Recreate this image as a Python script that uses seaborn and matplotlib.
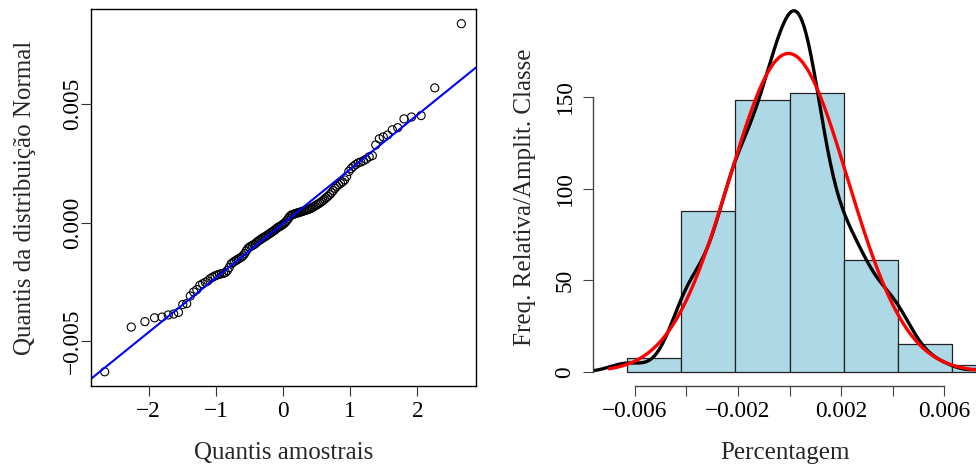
import numpy as np
import matplotlib
matplotlib.use("Agg")
import matplotlib.pyplot as plt
import seaborn as sns
from statistics import NormalDist

# Sorted sample values (percent returns)
retornos = [
    -0.00630, -0.00441, -0.00418, -0.00402, -0.00399, -0.00390, -0.00386, -0.00379,
    -0.00346, -0.00342, -0.00310, -0.00293, -0.00283, -0.00265, -0.00258, -0.00252,
    -0.00246, -0.00236, -0.00230, -0.00225, -0.00221, -0.00218, -0.00216, -0.00214,
    -0.00211, -0.00202, -0.00190, -0.00174, -0.00169, -0.00163, -0.00159, -0.00154,
    -0.00150, -0.00146, -0.00140, -0.00131, -0.00120, -0.00110, -0.00104, -0.00100,
    -0.00097, -0.00093, -0.00089, -0.00083, -0.00078, -0.00074, -0.00070, -0.00066,
    -0.00062, -0.00059, -0.00055, -0.00051, -0.00047, -0.00043, -0.00039, -0.00035,
    -0.00031, -0.00026, -0.00021, -0.00018, -0.00015, -0.00011, -0.00007, -0.00003,
    0.00003, 0.00010, 0.00018, 0.00026, 0.00031, 0.00034, 0.00036, 0.00038,
    0.00040, 0.00041, 0.00043, 0.00045, 0.00047, 0.00049, 0.00051, 0.00053,
    0.00055, 0.00057, 0.00060, 0.00063, 0.00067, 0.00071, 0.00075, 0.00079,
    0.00083, 0.00088, 0.00093, 0.00099, 0.00105, 0.00111, 0.00118, 0.00126,
    0.00135, 0.00145, 0.00153, 0.00160, 0.00166, 0.00172, 0.00180, 0.00195,
    0.00216, 0.00228, 0.00237, 0.00245, 0.00252, 0.00256, 0.00261, 0.00268,
    0.00278, 0.00283, 0.00328, 0.00354, 0.00362, 0.00370, 0.00392, 0.00401,
    0.00438, 0.00446, 0.00452, 0.00569, 0.00840,
]

qq_xlabel = "Quantis amostrais"
qq_ylabel = "Quantis da distribuição Normal"
qq_xticks = [-2, -1, 0, 1, 2]
qq_xticklabels = ["\u22122", "\u22121", "0", "1", "2"]
qq_yticks = [-0.005, 0.0, 0.005]
qq_yticklabels = ["\u22120.005", "0.000", "0.005"]

hist_xlabel = "Percentagem"
hist_ylabel = "Freq. Relativa/Amplit. Classe"
hist_xticks = [-0.006, -0.004, -0.002, 0.0, 0.002, 0.004, 0.006]
hist_xticklabels = ["\u22120.006", "", "\u22120.002", "", "0.002", "", "0.006"]
hist_yticks = [0, 50, 100, 150]
hist_yticklabels = ["0", "50", "100", "150"]

sns.set_theme(style="white")
plt.rcParams['font.family'] = ['Liberation Serif', 'DejaVu Serif']
plt.rcParams['axes.unicode_minus'] = True

data = np.sort(np.array(retornos))
n = len(data)
probs = (np.arange(1, n + 1) - 0.5) / n
teor = np.array([NormalDist().inv_cdf(p) for p in probs])
media = data.mean()
dp = data.std(ddof=1)
q1, q3 = np.percentile(data, [25, 75])
bw = 0.9 * min(dp, (q3 - q1) / 1.34) * n ** (-0.2)

W, H = 976, 468
fig = plt.figure(figsize=(W / 100, H / 100), dpi=100)
fs_tick = 16.8
fs_lab = 18
top_px, bot_px = 9.5, 386
ax1 = fig.add_axes([90.7 / W, (H - bot_px) / H, (476 - 90.7) / W, (bot_px - top_px) / H])
ax2 = fig.add_axes([593 / W, (H - bot_px) / H, (W - 593) / W, (bot_px - top_px) / H])

# ---- Q-Q plot ----
sns.scatterplot(x=teor, y=data, ax=ax1, marker='o', s=34,
                facecolor='none', edgecolor='black', linewidth=0.8)
ax1.axline((0, media), slope=dp, color='blue', lw=1.5)
ax1.set_xlim(-2.86, 2.87)
ax1.set_ylim(-0.00690, 0.00900)
ax1.set_xticks(qq_xticks)
ax1.set_xticklabels(qq_xticklabels, fontsize=fs_tick)
ax1.set_yticks(qq_yticks)
ax1.set_yticklabels(qq_yticklabels, fontsize=fs_tick, rotation=90, va='center')
ax1.set_xlabel(qq_xlabel, fontsize=fs_lab, labelpad=14.5)
ax1.set_ylabel(qq_ylabel, fontsize=fs_lab, labelpad=18.6)
for sp in ax1.spines.values():
    sp.set_color('black')
    sp.set_linewidth(1.0)
ax1.tick_params(direction='out', length=7, width=0.8, color='#333333',
                left=True, bottom=True, labelcolor='black')
ax1.tick_params(axis='x', pad=4)
ax1.tick_params(axis='y', pad=-1.6)

# ---- Histogram ----
bins = np.linspace(data.min(), data.max(), 8)
sns.histplot(data, bins=bins, stat='density', ax=ax2, color='#ADD8E6',
             edgecolor='#222222', linewidth=0.9, alpha=1.0)
sns.kdeplot(data, bw_method=bw / dp, gridsize=512, cut=3, ax=ax2,
            color='black', lw=2.4)
xs = np.linspace(-0.0070, 0.0080, 400)
pdf = np.exp(-0.5 * ((xs - media) / dp) ** 2) / (dp * np.sqrt(2 * np.pi))
sns.lineplot(x=xs, y=pdf, ax=ax2, color='red', lw=2.4)
ax2.set_xlim(-0.00763, 0.00724)
ax2.set_ylim(-7.63, 197.7)
ax2.set_xticks(hist_xticks)
ax2.set_xticklabels(hist_xticklabels, fontsize=fs_tick)
ax2.set_yticks(hist_yticks)
ax2.set_yticklabels(hist_yticklabels, fontsize=fs_tick, rotation=90, va='center')
ax2.set_xlabel(hist_xlabel, fontsize=fs_lab, labelpad=14.5)
ax2.set_ylabel(hist_ylabel, fontsize=fs_lab, labelpad=13.6)
ax2.spines['top'].set_visible(False)
ax2.spines['right'].set_visible(False)
ax2.spines['left'].set_bounds(0, 150)
ax2.spines['bottom'].set_bounds(-0.006, 0.006)
for s in ('left', 'bottom'):
    ax2.spines[s].set_color('#444444')
    ax2.spines[s].set_linewidth(1.0)
ax2.tick_params(direction='out', length=7, width=0.8, color='#444444',
                left=True, bottom=True, labelcolor='black')
ax2.tick_params(axis='x', pad=4)
ax2.tick_params(axis='y', pad=5.6)

fig.savefig("out.png", dpi=100)
